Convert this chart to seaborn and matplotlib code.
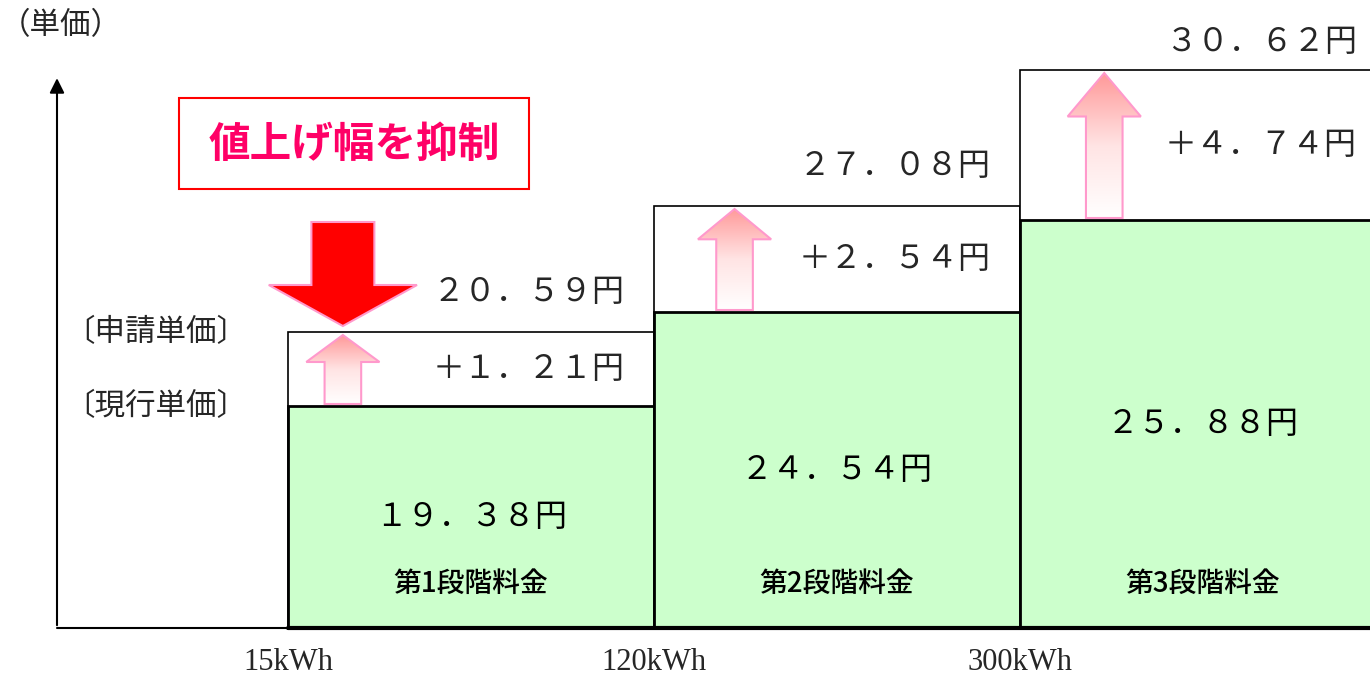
import numpy as np
import pandas as pd
import matplotlib
matplotlib.use("Agg")
import matplotlib.pyplot as plt
from matplotlib.patches import Polygon, Rectangle
from matplotlib.colors import LinearSegmentedColormap
import seaborn as sns

# tariff tiers and their lower kWh boundaries
tiers = ["第1段階料金", "第2段階料金", "第3段階料金"]
boundaries = ["15kWh", "120kWh", "300kWh"]
current_price = [19.38, 24.54, 25.88]      # 現行単価 (円)
requested_price = [20.59, 27.08, 30.62]    # 申請単価 (円)
increase = [1.21, 2.54, 4.74]              # 値上げ幅 (円)
# schematic bar heights as drawn in the figure (not to price scale)
current_level = [22.2, 31.6, 40.8]
requested_level = [29.6, 42.2, 55.8]

# where the pink arrows sit inside each bar (offset from the bar's left edge)
arrow_offset = [0.15, 0.22, 0.23]

FW = str.maketrans("0123456789.+", "０１２３４５６７８９．＋")


def zen(v, plus=False):
    s = f"{v:.2f}円"
    if plus:
        s = "+" + s
    return s.translate(FW)


def up_arrow(ax, xc, y0, y1, head_w=0.2, shaft_w=0.1):
    hl = max(0.3 * (y1 - y0), 2.7)
    pts = [(xc - shaft_w / 2, y0), (xc + shaft_w / 2, y0),
           (xc + shaft_w / 2, y1 - hl), (xc + head_w / 2, y1 - hl),
           (xc, y1), (xc - head_w / 2, y1 - hl), (xc - shaft_w / 2, y1 - hl)]
    poly = Polygon(pts, closed=True, facecolor="none", edgecolor="#FF99CC",
                   lw=1.5, zorder=5)
    ax.add_patch(poly)
    cmap = LinearSegmentedColormap.from_list("pk", ["#FFFFFF", "#FFE4E4", "#FF9999"])
    grad = np.linspace(0, 1, 256).reshape(-1, 1)
    im = ax.imshow(grad, cmap=cmap, extent=[xc - head_w / 2, xc + head_w / 2, y0, y1],
                   origin="lower", aspect="auto", zorder=4)
    im.set_clip_path(poly)


sns.set_theme(style="white")
plt.rcParams["font.family"] = ["Noto Sans CJK JP", "DejaVu Sans"]

df = pd.DataFrame({"tier": tiers, "current": current_level, "requested": requested_level})

fig = plt.figure(figsize=(13.7, 6.77), dpi=100)
ax = fig.add_axes([57 / 1370, 49 / 677, 1313 / 1370, 628 / 677])

sns.barplot(data=df, x="tier", y="requested", color="white", edgecolor="black",
            linewidth=1.2, width=1.0, saturation=1, ax=ax, zorder=1)
sns.barplot(data=df, x="tier", y="current", color="#CCFFCC", edgecolor="black",
            linewidth=2, width=1.0, saturation=1, ax=ax, zorder=2)
for p in ax.patches:
    p.set_clip_on(False)

xmin, xmax = -1.131, 2.456
ax.set_xlim(xmin, xmax)
ax.set_ylim(0, 62.8)
ax.set_axis_off()

# axes lines
ax.plot([xmin, xmax], [0, 0], color="black", lw=1.5, clip_on=False, zorder=3)
ax.plot([-0.5, xmax], [0, 0], color="black", lw=3, clip_on=False, zorder=3)
ax.annotate("", xy=(0, 0.88), xytext=(0, 0), xycoords="axes fraction",
            arrowprops=dict(arrowstyle="-|>", color="black", lw=1.5, mutation_scale=22),
            annotation_clip=False)

# labels per tier
for i, tier in enumerate(tiers):
    ax.text(i, current_level[i] / 2, zen(current_price[i]), ha="center", va="center",
            fontsize=23, color="black", zorder=6)
    ax.text(i, 4.5, tier, ha="center", va="center", fontsize=20, fontweight="medium",
            color="black", zorder=6)
    ax.text(i + 0.5 - 0.08, (current_level[i] + requested_level[i]) / 2,
            zen(increase[i], plus=True), ha="right", va="center", fontsize=23, zorder=6)
    ax.text(i + 0.5 - 0.08, min(requested_level[i] + 4.0, 58.6), zen(requested_price[i]),
            ha="right", va="center", fontsize=23, zorder=6, clip_on=False)
    up_arrow(ax, i - 0.5 + arrow_offset[i], current_level[i] + 0.2, requested_level[i] - 0.3)

for i, b in enumerate(boundaries):
    ax.text(i - 0.5, -3.5, b, ha="center", va="center", fontsize=22,
            family=["Liberation Serif", "DejaVu Serif"], fontstretch="condensed",
            clip_on=False)

ax.text(xmin + 0.02, requested_level[0], "〔申請単価〕", ha="left", va="center", fontsize=22)
ax.text(xmin + 0.02, current_level[0], "〔現行単価〕", ha="left", va="center", fontsize=22)

# red down arrow (suppression), above the first tier's pink arrow
xc = -0.5 + arrow_offset[0]
tip = requested_level[0] + 0.6
top = requested_level[0] + 11.0
hw, sw, hl = 0.405, 0.172, 4.1
red = Polygon([(xc - sw / 2, top), (xc + sw / 2, top), (xc + sw / 2, tip + hl),
               (xc + hw / 2, tip + hl), (xc, tip), (xc - hw / 2, tip + hl),
               (xc - sw / 2, tip + hl)], closed=True, facecolor="#FF0000",
              edgecolor="#FF99CC", lw=1.5, zorder=6)
ax.add_patch(red)

# header texts
fig.text(0.0, 1 - 26 / 677, "（単価）", ha="left", va="center", fontsize=22)
fig.patches.append(Rectangle((179 / 1370, (677 - 189) / 677), 350 / 1370, 91 / 677,
                             transform=fig.transFigure, facecolor="white",
                             edgecolor="#FF0000", lw=1.5))
fig.text(354 / 1370, 1 - 145 / 677, "値上げ幅を抑制", ha="center", va="center",
         fontsize=30, fontweight="bold", color="#FF0066")

fig.savefig("out.png", dpi=100)
